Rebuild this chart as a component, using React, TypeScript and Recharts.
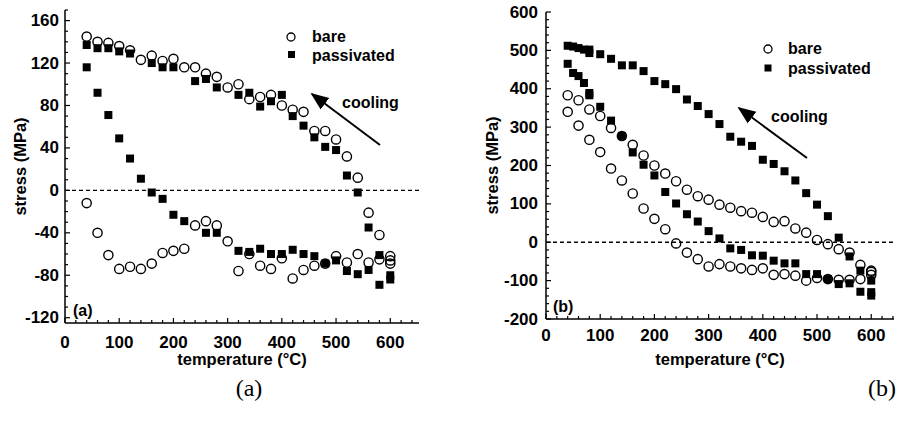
import React from "react";
import { ScatterChart, Scatter, XAxis, YAxis, ReferenceLine } from "recharts";

type Pt = [number, number];

// [temperature °C, stress MPa]
const bareA: Pt[] = [
  [40, 145], [60, 140], [80, 139], [100, 136], [120, 132], [140, 123], [160, 127], [180, 122], [200, 124],
  [220, 116], [240, 116], [260, 110], [280, 107], [300, 97], [320, 100], [340, 86], [360, 88], [380, 90],
  [400, 80], [420, 76], [440, 74], [460, 56], [480, 56], [500, 48], [520, 32], [540, 12],
  [560, -21], [580, -42], [600, -62], [600, -66], [600, -69],
  [40, -12], [60, -40], [80, -61], [100, -74], [120, -72], [140, -74], [160, -69], [180, -59], [200, -57],
  [220, -55], [240, -33], [260, -29], [280, -33], [300, -48], [320, -76], [340, -60], [360, -71], [380, -74],
  [400, -64], [420, -83], [440, -75], [460, -71], [480, -69], [500, -62], [520, -68], [540, -60], [560, -68], [580, -65],
];
const passA: Pt[] = [
  [40, 137], [60, 134], [80, 134], [100, 131], [120, 129], [160, 120], [180, 116], [200, 116], [240, 103],
  [260, 105], [280, 97], [320, 90], [340, 92], [360, 79], [380, 84], [400, 90], [420, 70], [440, 61],
  [460, 50], [480, 41], [500, 38], [520, 14], [540, -2], [560, -35], [580, -61],
  [40, 116], [60, 92], [80, 71], [100, 49], [120, 30], [140, 11], [160, -2], [180, -8], [200, -23], [220, -29],
  [260, -40], [280, -40], [320, -57], [340, -58], [360, -55], [380, -60], [400, -60], [420, -56], [440, -60],
  [460, -62], [480, -69], [500, -66], [520, -76], [540, -79], [560, -75], [580, -89], [600, -80], [600, -84],
];
const bareB: Pt[] = [
  [40, 383], [60, 370], [80, 346], [100, 329], [120, 298], [140, 277], [160, 254], [180, 226], [200, 200],
  [220, 179], [240, 159], [260, 137], [280, 120], [300, 111], [320, 98], [340, 90], [360, 81], [380, 77],
  [400, 66], [420, 53], [440, 55], [460, 36], [480, 25], [500, 6], [520, -5], [540, -18], [560, -27],
  [580, -59], [600, -74], [600, -77],
  [40, 340], [60, 304], [80, 267], [100, 235], [120, 192], [140, 161], [160, 127], [180, 88], [200, 61],
  [220, 34], [240, -3], [260, -27], [280, -44], [300, -63], [320, -57], [340, -63], [360, -68], [380, -72],
  [400, -68], [420, -85], [440, -83], [460, -87], [480, -100], [500, -93], [520, -96], [540, -98], [560, -98],
  [580, -96], [600, -85],
];
const passB: Pt[] = [
  [40, 512], [50, 510], [60, 506], [70, 502], [80, 502], [80, 493], [100, 490], [120, 478], [140, 461],
  [160, 461], [180, 446], [200, 420], [220, 412], [240, 399], [260, 372], [280, 355], [300, 334], [320, 308],
  [340, 275], [360, 262], [380, 251], [400, 215], [420, 204], [440, 185], [460, 161], [480, 128], [500, 98],
  [520, 68], [540, 12], [560, -37], [580, -74], [600, -100],
  [40, 465], [50, 441], [60, 433], [70, 415], [80, 389], [80, 383], [100, 353], [120, 317], [140, 277],
  [160, 234], [180, 202], [200, 174], [220, 131], [240, 101], [260, 73], [280, 54], [300, 29], [320, 10],
  [340, -16], [360, -20], [380, -34], [400, -35], [420, -48], [440, -55], [460, -55], [480, -83], [500, -83],
  [520, -96], [540, -109], [560, -107], [580, -129], [600, -139], [600, -130],
];

const tempTicks = [0, 100, 200, 300, 400, 500, 600];
const stressTicksA = [-120, -80, -40, 0, 40, 80, 120, 160];
const stressTicksB = [-200, -100, 0, 100, 200, 300, 400, 500, 600];

const FONT = "'Liberation Sans', Arial, Helvetica, sans-serif";
const SERIF = "'Liberation Serif', 'Times New Roman', serif";

const range = (a: number, b: number, step: number) => {
  const out: number[] = [];
  for (let v = a; v <= b; v += step) out.push(v);
  return out;
};
const toRows = (pts: Pt[]) => pts.map(([t, s]) => ({ t, s }));

// tick renderers: axis drawn with tickSize 0, so (x, y) sits on the axis line
const makeTick = (side: "bottom" | "top" | "left" | "right", majors: number[], gap = 0) => (p: any) => {
  const v = p.payload.value;
  const major = majors.includes(v);
  const len = major ? 5 : 3;
  const { x, y } = p;
  let line;
  if (side === "bottom") line = <line x1={x} x2={x} y1={y} y2={y - len} />;
  else if (side === "top") line = <line x1={x} x2={x} y1={y} y2={y + len} />;
  else if (side === "left") line = <line x1={x} x2={x + len} y1={y} y2={y} />;
  else line = <line x1={x} x2={x - len} y1={y} y2={y} />;
  return (
    <g stroke="#000" strokeWidth={1.2}>
      {line}
      {major && side === "bottom" && (
        <text x={x} y={y + gap} textAnchor="middle" dominantBaseline="central" fontSize={17} fontWeight="bold" fontFamily={FONT} fill="#000" stroke="none">
          {v}
        </text>
      )}
      {major && side === "left" && (
        <text x={x - gap} y={y} textAnchor="end" dominantBaseline="central" fontSize={17} fontWeight="bold" fontFamily={FONT} fill="#000" stroke="none">
          {v}
        </text>
      )}
    </g>
  );
};

const Circle = (p: any) => <circle cx={p.cx} cy={p.cy} r={4.6} fill="none" stroke="#000" strokeWidth={1.4} />;
const Square = (p: any) => <rect x={p.cx - 4} y={p.cy - 4} width={8} height={8} fill="#000" />;

interface PanelProps {
  bare: Pt[];
  pass: Pt[];
  xMax: number;
  yDomain: [number, number];
  yMajor: number[];
  yMinorStep: number;
  yAxisWidth: number;
  margin: { top: number; right: number; bottom: number; left: number };
  width: number;
  xLabelGap: number;
  yLabelGap: number;
  titleOffset: number;
  xAxisHeight: number;
}

function Panel(props: PanelProps) {
  const { bare, pass, xMax, yDomain, yMajor, yMinorStep } = props;
  const xAll = range(0, xMax, 20);
  const yAll = range(yMajor[0], yDomain[1], yMinorStep);
  const axisStroke = { stroke: "#000", strokeWidth: 1.5 };
  return (
    <ScatterChart width={props.width} height={370} margin={props.margin}>
      <XAxis
        dataKey="t"
        type="number"
        domain={[0, xMax]}
        ticks={xAll}
        interval={0}
        allowDataOverflow
        height={props.xAxisHeight}
        tickSize={0}
        tickMargin={0}
        tickLine={false}
        axisLine={axisStroke}
        tick={makeTick("bottom", tempTicks, props.xLabelGap)}
        label={{ value: "temperature (°C)", position: "insideBottom", offset: 5, fontSize: 16.5, fontWeight: "bold", fill: "#000", fontFamily: FONT }}
      />
      <XAxis
        xAxisId="top"
        orientation="top"
        type="number"
        domain={[0, xMax]}
        ticks={xAll}
        interval={0}
        allowDataOverflow
        height={0}
        tickSize={0}
        tickMargin={0}
        tickLine={false}
        axisLine={axisStroke}
        tick={makeTick("top", tempTicks)}
      />
      <YAxis
        dataKey="s"
        type="number"
        domain={yDomain}
        ticks={yAll}
        interval={0}
        allowDataOverflow
        width={props.yAxisWidth}
        tickSize={0}
        tickMargin={0}
        tickLine={false}
        axisLine={axisStroke}
        tick={makeTick("left", yMajor, props.yLabelGap)}
        label={{
          value: "stress (MPa)",
          angle: -90,
          position: "insideLeft",
          offset: props.titleOffset,
          fontSize: 16.5,
          fontWeight: "bold",
          fill: "#000",
          fontFamily: FONT,
          style: { textAnchor: "middle" },
        }}
      />
      <YAxis
        yAxisId="right"
        orientation="right"
        type="number"
        domain={yDomain}
        ticks={yAll}
        interval={0}
        allowDataOverflow
        width={0}
        tickSize={0}
        tickMargin={0}
        tickLine={false}
        axisLine={axisStroke}
        tick={makeTick("right", yMajor)}
      />
      <ReferenceLine y={0} stroke="#000" strokeWidth={1.3} strokeDasharray="4 3" />
      <Scatter data={toRows(bare)} shape={Circle} isAnimationActive={false} />
      <Scatter data={toRows(pass)} shape={Square} isAnimationActive={false} />
    </ScatterChart>
  );
}

const txt = { fontFamily: FONT, fontSize: 16, fontWeight: "bold", fill: "#000" } as const;

export default function App() {
  return (
    <div style={{ position: "absolute", left: 0, top: 0, width: 898, height: 421, background: "#fff", overflow: "hidden" }}>
      <div style={{ position: "absolute", left: 0, top: 0 }}>
        <Panel
          bare={bareA}
          pass={passA}
          xMax={653}
          yDomain={[-125, 170]}
          yMajor={stressTicksA}
          yMinorStep={10}
          yAxisWidth={65}
          width={440}
          margin={{ top: 10, right: 21, bottom: 0, left: 0 }}
          xAxisHeight={47}
          xLabelGap={19}
          yLabelGap={6}
          titleOffset={20}
        />
      </div>
      <div style={{ position: "absolute", left: 470, top: 0 }}>
        <Panel
          bare={bareB}
          pass={passB}
          xMax={642}
          yDomain={[-200, 600]}
          yMajor={stressTicksB}
          yMinorStep={20}
          yAxisWidth={76}
          width={428}
          margin={{ top: 12, right: 4, bottom: 0, left: 0 }}
          xAxisHeight={51}
          xLabelGap={16}
          yLabelGap={8}
          titleOffset={22}
        />
      </div>
      <svg width={898} height={421} style={{ position: "absolute", left: 0, top: 0, pointerEvents: "none" }}>
        <defs>
          <marker id="head" viewBox="0 0 10 10" refX="9" refY="5" markerWidth="9" markerHeight="9" orient="auto">
            <path d="M0,1 L10,5 L0,9 z" fill="#000" />
          </marker>
        </defs>
        {/* panel (a) legend + notes */}
        <circle cx={291} cy={37} r={4} fill="none" stroke="#000" strokeWidth={1.3} />
        <text x={312} y={42} {...txt}>bare</text>
        <rect x={288} y={51} width={7} height={7} fill="#000" />
        <text x={312} y={61} {...txt}>passivated</text>
        <text x={342} y={108} {...txt}>cooling</text>
        <line x1={380} y1={145} x2={312} y2={94} stroke="#000" strokeWidth={2} markerEnd="url(#head)" />
        <text x={73} y={316} {...txt}>(a)</text>
        {/* panel (b) legend + notes */}
        <circle cx={768} cy={49} r={4} fill="none" stroke="#000" strokeWidth={1.3} />
        <text x={788} y={54} {...txt}>bare</text>
        <rect x={764.5} y={64.5} width={7} height={7} fill="#000" />
        <text x={788} y={74} {...txt}>passivated</text>
        <text x={771} y={122} {...txt}>cooling</text>
        <line x1={807} y1={158} x2={739} y2={108} stroke="#000" strokeWidth={2} markerEnd="url(#head)" />
        <text x={553} y={312} {...txt}>(b)</text>
        {/* figure captions */}
        <text x={249} y={396} textAnchor="middle" fontFamily={SERIF} fontSize={24} fill="#000">(a)</text>
        <text x={896} y={396} textAnchor="end" fontFamily={SERIF} fontSize={24} fill="#000">(b)</text>
      </svg>
    </div>
  );
}
